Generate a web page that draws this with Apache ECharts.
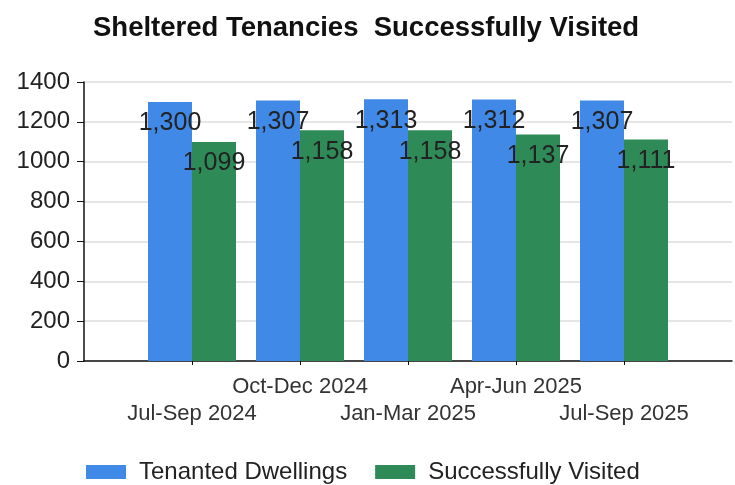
<!DOCTYPE html>
<html>
<head>
<meta charset="utf-8">
<script src="https://cdn.jsdelivr.net/npm/echarts@6/dist/echarts.min.js"></script>
<style>
  html, body { margin: 0; padding: 0; background: #fff; }
  #chart { width: 735px; height: 485px; }
</style>
</head>
<body>
<div id="chart"></div>
<script>
// Quarter labels and values
const quarters = ['Jul-Sep 2024', 'Oct-Dec 2024', 'Jan-Mar 2025', 'Apr-Jun 2025', 'Jul-Sep 2025'];
const tenantedDwellings = [1300, 1307, 1313, 1312, 1307];
const successfullyVisited = [1099, 1158, 1158, 1137, 1111];
const yTicks = [0, 200, 400, 600, 800, 1000, 1200, 1400];

// Axis runs half a step past first and last quarter, so pad with blank slots
const xCats = [''].concat(quarters, ['']);
const pad = arr => ['-'].concat(arr, ['-']);

const font = '"Liberation Sans", Arial, sans-serif';

function withComma(v) {
  return String(v).replace(/\B(?=(\d{3})+(?!\d))/g, ',');
}

const chart = echarts.init(document.getElementById('chart'));

const valueLabel = {
  show: true,
  position: 'insideTop',
  distance: 9,
  fontFamily: font,
  fontSize: 25,
  color: '#222',
  formatter: p => withComma(p.value)
};

chart.setOption({
  animation: false,
  title: {
    text: 'Sheltered Tenancies  Successfully Visited',
    left: 88,
    top: 9,
    textStyle: { fontFamily: font, fontSize: 27.5, fontWeight: 'bold', color: '#111' }
  },
  legend: {
    left: 81,
    top: 455,
    icon: 'rect',
    itemWidth: 40,
    itemHeight: 14,
    itemGap: 28,
    textStyle: { fontFamily: font, fontSize: 24, color: '#222', padding: [0, 0, 0, 8] },
    data: ['Tenanted Dwellings', 'Successfully Visited']
  },
  grid: { left: 84, right: -7, top: 82, bottom: 124, containLabel: false },
  xAxis: {
    type: 'category',
    data: xCats,
    boundaryGap: false,
    axisLine: { lineStyle: { color: '#111', width: 1.5 } },
    axisTick: {
      length: 4,
      lineStyle: { color: '#111' },
      interval: (i) => i > 0 && i < xCats.length - 1
    },
    axisLabel: {
      interval: 0,
      margin: 12,
      fontFamily: font,
      fontSize: 22,
      lineHeight: 27,
      color: '#333',
      formatter: (v, i) => {
        if (!v) return '';
        return (i % 2 === 1) ? '\n' + v : v;
      }
    },
    splitLine: { show: false }
  },
  yAxis: {
    type: 'value',
    min: yTicks[0],
    max: yTicks[yTicks.length - 1],
    interval: 200,
    axisLine: { show: true, lineStyle: { color: '#111', width: 1.5 } },
    axisTick: { show: true, length: 7, lineStyle: { color: '#111' } },
    axisLabel: { margin: 14, fontFamily: font, fontSize: 24, color: '#222', formatter: v => String(v) },
    splitLine: { lineStyle: { color: '#dedede', width: 1.5 } }
  },
  series: [
    {
      name: 'Tenanted Dwellings',
      type: 'bar',
      data: pad(tenantedDwellings),
      barWidth: 44,
      barGap: '0%',
      itemStyle: { color: '#4189e6' },
      label: valueLabel
    },
    {
      name: 'Successfully Visited',
      type: 'bar',
      data: pad(successfullyVisited),
      barWidth: 44,
      barGap: '0%',
      itemStyle: { color: '#2e8b57' },
      label: valueLabel
    }
  ]
});
</script>
</body>
</html>
